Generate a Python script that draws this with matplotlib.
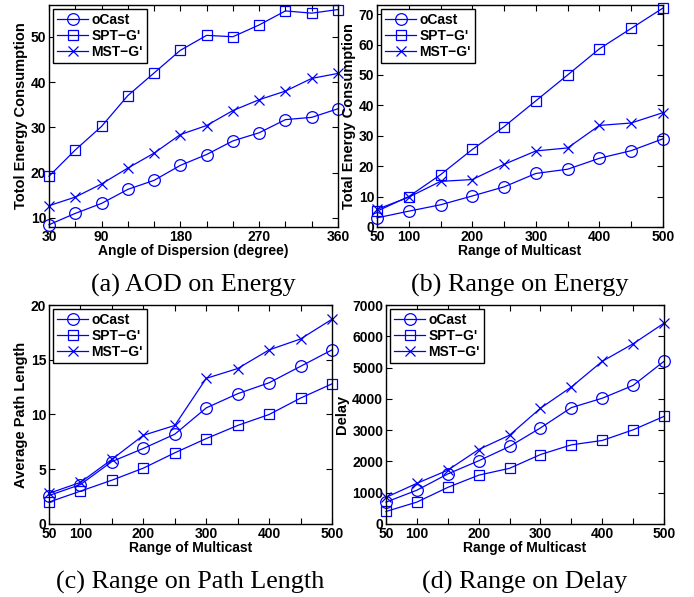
import matplotlib
matplotlib.use("Agg")
import matplotlib.pyplot as plt

plt.rcParams["font.family"] = ["Liberation Sans", "DejaVu Sans"]
plt.rcParams["font.weight"] = "bold"

BLUE = "#0000ff"
SERIES = ["oCast", "SPT\u2212G'", "MST\u2212G'"]
MARKERS = ["o", "s", "x"]
MSIZES = {"o": 8.4, "s": 6.8, "x": 7.5}

# (a) angle of dispersion vs energy
aod_x = [30, 60, 90, 120, 150, 180, 210, 240, 270, 300, 330, 360]
aod_ocast = [8.5, 11.0, 13.2, 16.3, 18.3, 21.6, 24.0, 27.0, 28.8, 31.7, 32.2, 34.1]
aod_spt = [19.2, 25.0, 30.2, 37.0, 42.0, 47.0, 50.3, 50.0, 52.6, 55.7, 55.2, 56.0]
aod_mst = [12.7, 14.6, 17.5, 21.0, 24.3, 28.4, 30.4, 33.7, 36.1, 38.0, 40.8, 41.9]

# range of multicast
rng_x = [50, 100, 150, 200, 250, 300, 350, 400, 450, 500]

energy_ocast = [3.0, 5.2, 7.3, 10.2, 13.2, 17.6, 19.0, 22.6, 25.1, 29.0]
energy_spt = [5.2, 10.0, 17.2, 25.5, 33.0, 41.5, 50.0, 58.6, 65.3, 72.0]
energy_mst = [5.8, 9.8, 15.0, 15.6, 20.6, 25.0, 26.0, 33.4, 34.2, 37.6]

path_ocast = [2.6, 3.6, 5.7, 6.9, 8.2, 10.6, 11.9, 12.9, 14.4, 15.9]
path_spt = [2.0, 3.0, 4.0, 5.1, 6.5, 7.8, 9.0, 10.0, 11.5, 12.8]
path_mst = [2.8, 3.8, 5.9, 8.1, 9.0, 13.3, 14.2, 15.9, 16.9, 18.7]

delay_ocast = [700, 1080, 1600, 2020, 2480, 3070, 3720, 4020, 4430, 5200]
delay_spt = [400, 700, 1170, 1560, 1780, 2220, 2530, 2670, 3010, 3440]
delay_mst = [850, 1300, 1720, 2380, 2840, 3700, 4380, 5200, 5760, 6420]

rng_ticks = [50, 100, 150, 200, 250, 300, 350, 400, 450, 500]
rng_labels = ["50", "100", "", "200", "", "300", "", "400", "", "500"]
aod_ticks = [30, 60, 90, 120, 150, 180, 210, 240, 270, 300, 330, 360]
aod_labels = ["30", "", "90", "", "", "180", "", "", "270", "", "", "360"]


def draw_panel(ax, x, ys, xlim, ylim, xticks, xlabels, yticks, xlabel, ylabel, caption):
    for y, name, marker in zip(ys, SERIES, MARKERS):
        ax.plot(x, y, color=BLUE, linewidth=0.9, marker=marker, markersize=MSIZES[marker],
                markerfacecolor="none", markeredgecolor=BLUE, markeredgewidth=0.9, label=name,
                clip_on=False)
    ax.set_xlim(*xlim)
    ax.set_ylim(*ylim)
    ax.set_xticks(xticks)
    ax.set_xticklabels(xlabels)
    ax.set_yticks(yticks)
    ax.tick_params(direction="in", top=True, right=True, length=4, width=0.8,
                   labelsize=10, pad=2)
    for lab in ax.get_xticklabels() + ax.get_yticklabels():
        lab.set_fontweight("bold")
    ax.set_xlabel(xlabel, fontsize=10, fontweight="bold", labelpad=0)
    ax.set_ylabel(ylabel, fontsize=10.5, fontweight="bold", labelpad=2)
    for spine in ax.spines.values():
        spine.set_linewidth(1.0)
    leg = ax.legend(loc="upper left", fancybox=False, framealpha=1,
                    edgecolor="black", borderpad=0.3, labelspacing=0.12, handlelength=2.2,
                    handletextpad=0.25, borderaxespad=0.3, prop={"weight": "bold", "size": 10})
    leg.get_frame().set_linewidth(1.0)
    ax.text(0.5, -0.265, caption, transform=ax.transAxes, ha="center", va="center",
            fontsize=18.8, family="Liberation Serif", fontweight="normal")


fig = plt.figure(figsize=(6.94, 5.97), dpi=100)
ax_a = fig.add_axes([0.0706, 0.6198, 0.4164, 0.3718])
ax_b = fig.add_axes([0.5432, 0.6198, 0.4121, 0.3718])
ax_c = fig.add_axes([0.0706, 0.1223, 0.4078, 0.3668])
ax_d = fig.add_axes([0.5562, 0.1223, 0.4006, 0.3668])

draw_panel(ax_a, aod_x, [aod_ocast, aod_spt, aod_mst], (30, 360), (8, 57),
           aod_ticks, aod_labels, [10, 20, 30, 40, 50],
           "Angle of Dispersion (degree)", "Totol Energy Consumption", "(a) AOD on Energy")
draw_panel(ax_b, rng_x, [energy_ocast, energy_spt, energy_mst], (50, 500), (0, 73),
           rng_ticks, rng_labels, [0, 10, 20, 30, 40, 50, 60, 70],
           "Range of Multicast", "Total Energy Consumption", "(b) Range on Energy")
draw_panel(ax_c, rng_x, [path_ocast, path_spt, path_mst], (50, 500), (0, 20),
           rng_ticks, rng_labels, [0, 5, 10, 15, 20],
           "Range of Multicast", "Average Path Length", "(c) Range on Path Length")
draw_panel(ax_d, rng_x, [delay_ocast, delay_spt, delay_mst], (50, 500), (0, 7000),
           rng_ticks, rng_labels, [0, 1000, 2000, 3000, 4000, 5000, 6000, 7000],
           "Range of Multicast", "Delay", "(d) Range on Delay")

fig.savefig("out.png", dpi=100)
